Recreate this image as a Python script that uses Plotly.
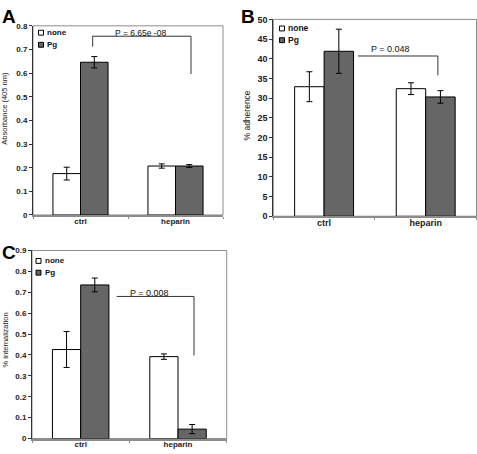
import plotly.graph_objects as go

W, H = 477, 454

categories = ["ctrl", "heparin"]

# Panel A: Absorbance (405 nm)
a_none = [0.175, 0.207]
a_none_err = [0.027, 0.009]
a_pg = [0.646, 0.207]
a_pg_err = [0.024, 0.006]

# Panel B: % adherence
b_none = [32.9, 32.4]
b_none_err = [3.8, 1.5]
b_pg = [41.9, 30.3]
b_pg_err = [5.6, 1.6]

# Panel C: % internalization
c_none = [0.426, 0.392]
c_none_err = [0.086, 0.013]
c_pg = [0.735, 0.045]
c_pg_err = [0.033, 0.022]

series_names = ["none", "Pg"]
p_texts = ["P = 6.65e -08", "P = 0.048", "P = 0.008"]
y_titles = ["Absorbance (405 nm)", "% adherence", "% internalization"]
panel_letters = ["A", "B", "C"]

FONT = "Liberation Sans, Arial, sans-serif"
BAR_GRAY = "#666666"
FRAME = "#8c8c8c"


def px_x(p):
    return p / W


def px_y(p):
    return 1 - p / H


fig = go.Figure()

panels = [
    dict(xa="x", ya="y", none=a_none, ne=a_none_err, pg=a_pg, pe=a_pg_err,
         xdom=[33, 223], ydom=[21.3, 214.7], yr=[0, 0.8], dt=0.1, fs=8),
    dict(xa="x2", ya="y2", none=b_none, ne=b_none_err, pg=b_pg, pe=b_pg_err,
         xdom=[273.3, 476.5], ydom=[14.7, 216], yr=[0, 50], dt=5, fs=9),
    dict(xa="x3", ya="y3", none=c_none, ne=c_none_err, pg=c_pg, pe=c_pg_err,
         xdom=[32, 226.7], ydom=[251, 443.3], yr=[0, 0.9], dt=0.1, fs=8),
]

for i, p in enumerate(panels):
    for name, vals, errs, col in [(series_names[0], p["none"], p["ne"], "white"),
                                  (series_names[1], p["pg"], p["pe"], BAR_GRAY)]:
        fig.add_trace(go.Bar(
            x=categories, y=vals, name=name, xaxis=p["xa"], yaxis=p["ya"],
            marker=dict(color=col, line=dict(color="black", width=1)),
            error_y=dict(type="data", array=errs, visible=True, color="black",
                         thickness=1, width=3),
            showlegend=False, hoverinfo="skip",
        ))

layout = dict(
    width=W, height=H, margin=dict(l=0, r=0, t=0, b=0),
    paper_bgcolor="white", plot_bgcolor="white",
    barmode="group", bargap=0.42, bargroupgap=0,
    font=dict(family=FONT, size=8, color="#222"),
    showlegend=False,
)

shapes = []
annotations = []

for i, p in enumerate(panels):
    sfx = "" if i == 0 else str(i + 1)
    layout["xaxis" + sfx] = dict(
        domain=[px_x(p["xdom"][0]), px_x(p["xdom"][1])],
        anchor="y" + sfx, type="category", range=[-0.5, 1.5],
        showline=True, linecolor=FRAME, linewidth=2,
        ticks="outside", tickson="boundaries", ticklen=2, tickcolor=FRAME,
        ticklabelstandoff=-3,
        tickfont=dict(family=FONT, size=p["fs"], color="#222", weight="bold"),
        showgrid=False, zeroline=False,
    )
    layout["yaxis" + sfx] = dict(
        domain=[px_y(p["ydom"][1]), px_y(p["ydom"][0])],
        anchor="x" + sfx, range=p["yr"], dtick=p["dt"], tick0=0,
        showline=True, linecolor="#333", linewidth=1,
        ticks="outside", ticklen=3, tickcolor="#333",
        tickfont=dict(family=FONT, size=p["fs"], color="#222", weight="bold"),
        showgrid=False, zeroline=False,
    )
    # plot-area frame
    shapes.append(dict(type="rect", xref="x%s domain" % sfx, yref="y%s domain" % sfx,
                       x0=0, x1=1, y0=0, y1=1, line=dict(color=FRAME, width=1),
                       layer="below"))

# significance brackets (data coordinates)
brackets = [
    ("x", "y", [(0.128, 0.712), (0.128, 0.756), (1.163, 0.756), (1.163, 0.596)]),
    ("x2", "y2", [(0.333, 40.7), (1.12, 40.7), (1.12, 35.8)]),
    ("x3", "y3", [(0.37, 0.680), (1.164, 0.680), (1.164, 0.398)]),
]
for xr, yr, pts in brackets:
    for (x0, y0), (x1, y1) in zip(pts[:-1], pts[1:]):
        shapes.append(dict(type="line", xref=xr, yref=yr, x0=x0, y0=y0, x1=x1, y1=y1,
                           line=dict(color="#333", width=1)))

# P-value texts (pixel positions)
p_pos = [(140, 28.3, 8.5), (390, 45.3, 9), (149, 294, 9)]
for t, (x, y, s) in zip(p_texts, p_pos):
    annotations.append(dict(text=t, x=px_x(x), y=px_y(y), xref="paper", yref="paper",
                            xanchor="center", yanchor="middle", showarrow=False,
                            font=dict(family=FONT, size=s, color="#111")))

# y axis titles
ytitle_pos = [(5, 106, 7.5), (247, 113, 8.5), (5, 343, 7.5)]
for t, (x, y, s) in zip(y_titles, ytitle_pos):
    annotations.append(dict(text=t, x=px_x(x), y=px_y(y), xref="paper", yref="paper",
                            xanchor="center", yanchor="middle", showarrow=False,
                            textangle=-90, font=dict(family=FONT, size=s, color="#222")))

# panel letters
letter_pos = [(0, -1), (239, -1), (0, 240)]
for t, (x, y) in zip(panel_letters, letter_pos):
    annotations.append(dict(text="<b>%s</b>" % t, x=px_x(x), y=px_y(y), xref="paper",
                            yref="paper", xanchor="left", yanchor="top", showarrow=False,
                            font=dict(family=FONT, size=19, color="black")))

# legends (swatch + label)
legend_pos = [(38.5, 28.3, 40.7, 8), (279.5, 24, 36, 8.5), (36, 261.7, 273.7, 8)]
for (lx, r1, r2, s) in legend_pos:
    for name, col, ry in [(series_names[0], "white", r1), (series_names[1], BAR_GRAY, r2)]:
        shapes.append(dict(type="rect", xref="paper", yref="paper",
                           x0=px_x(lx), x1=px_x(lx + 5), y0=px_y(ry + 2.5), y1=px_y(ry - 2.5),
                           fillcolor=col, line=dict(color="black", width=1)))
        annotations.append(dict(text=name, x=px_x(lx + 6.5), y=px_y(ry), xref="paper",
                                yref="paper", xanchor="left", yanchor="middle",
                                showarrow=False,
                                font=dict(family=FONT, size=s, color="#111", weight="bold")))

layout["shapes"] = shapes
layout["annotations"] = annotations
fig.update_layout(**layout)

fig.write_html("out.html",
               config={"displayModeBar": False, "staticPlot": True},
               post_script="document.body.style.margin='0';"
                           "document.body.style.overflow='hidden';")
